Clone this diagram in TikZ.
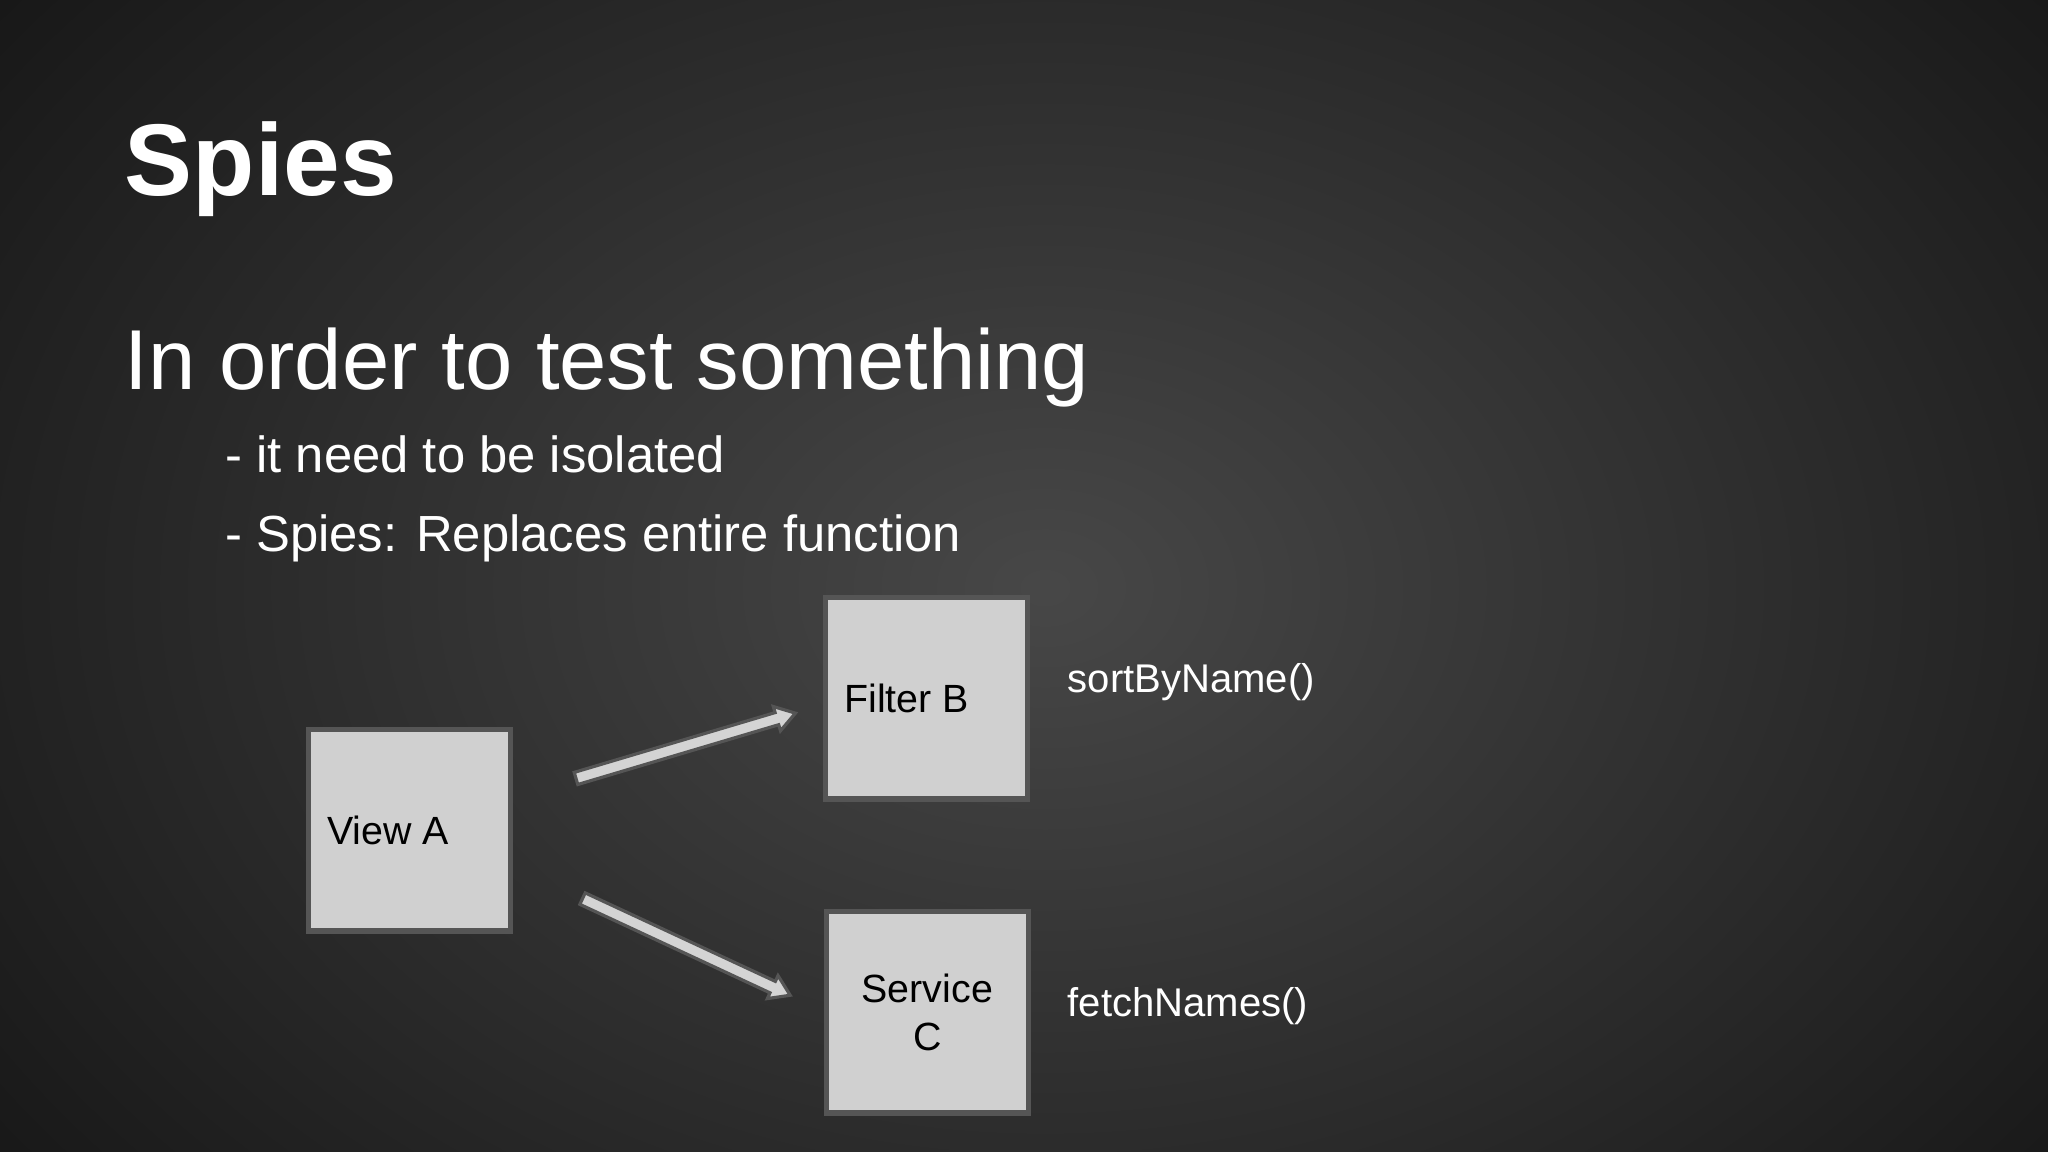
\documentclass[tikz,border=0pt]{standalone}
\usepackage{fontspec}
\setmainfont{Liberation Sans}
\usetikzlibrary{calc}
\definecolor{boxfill}{HTML}{D0D0D0}
\definecolor{boxline}{HTML}{555555}
\definecolor{arrfill}{HTML}{D4D4D4}
\newcommand{\fatarrow}[2]{%
  \coordinate (H) at ($(#2)!5.5pt!(#1)$);
  \draw[arrstyle] ($(#1)!1.8pt!90:(#2)$) -- ($(H)!1.8pt!90:(#2)$) -- ($(H)!3.6pt!90:(#2)$) -- (#2)
    -- ($(H)!3.6pt!-90:(#2)$) -- ($(H)!1.8pt!-90:(#2)$) -- ($(#1)!1.8pt!-90:(#2)$) -- cycle;}
\begin{document}
\begin{tikzpicture}[x=0.01306cm,y=-0.01306cm,
  box/.style={draw=boxline,line width=1.5pt,fill=boxfill,minimum width=57.4pt,minimum height=57.4pt,inner sep=0pt,font=\fontsize{11.2}{13.5}\selectfont,text=black},
  lbl/.style={anchor=west,text=white,font=\fontsize{11.4}{14}\selectfont},
  arrstyle/.style={draw=boxline,line width=0.9pt,fill=arrfill,line join=miter}]
\useasboundingbox (0,0) rectangle (1568,882);
\shade[inner color=black!72,outer color=black!96] (-500,-500) rectangle (2100,1400);
\node[anchor=base west,inner sep=0pt,text=white,font=\fontsize{29}{34}\bfseries\selectfont] (title) at (95,150) {Spies};
\node[anchor=base west,inner sep=0pt,text=white,font=\fontsize{24.2}{29}\selectfont] (sub) at (95,298) {In order to test something};
\node[anchor=base west,inner sep=0pt,text=white,font=\fontsize{14.45}{17}\selectfont] (b1) at (172,362) {- it need to be isolated};
\node[anchor=base west,inner sep=0pt,text=white,font=\fontsize{14.45}{17}\selectfont] (b2) at (172,422) {- Spies: Replaces entire function};
\node[box] (A) at (313.5,635.5) {};
\node[anchor=west,inner sep=0pt,font=\fontsize{11.2}{13.5}\selectfont] (At) at (250,636) {View A};
\node[box] (B) at (709.5,534.5) {};
\node[anchor=west,inner sep=0pt,font=\fontsize{11.2}{13.5}\selectfont] (Bt) at (646,535) {Filter B};
\node[box,align=center] (C) at (710,775) {Service\\C};
\node[lbl] (sb) at (808,522) {sortByName()};
\node[lbl] (fn) at (808,770) {fetchNames()};
\coordinate (a1s) at (441,596); \coordinate (a1e) at (609,546);
\coordinate (a2s) at (446,688); \coordinate (a2e) at (605,762);
\fatarrow{a1s}{a1e}
\fatarrow{a2s}{a2e}
\end{tikzpicture}
\end{document}
